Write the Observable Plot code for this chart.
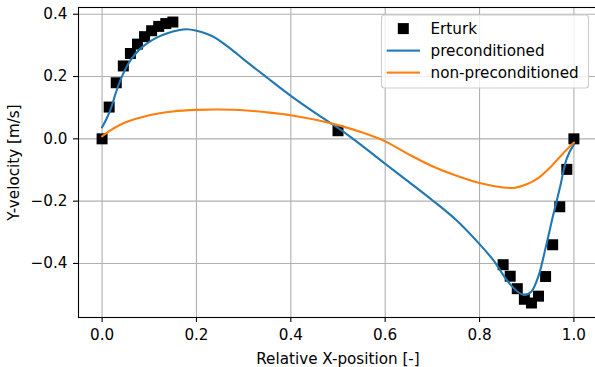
<!DOCTYPE html>
<html><head><meta charset="utf-8">
<script src="https://cdn.jsdelivr.net/npm/d3@7"></script>
<script src="https://cdn.jsdelivr.net/npm/@observablehq/plot@0.6"></script>
<style>
body{margin:0;background:#fff}
#chart{position:relative;width:595px;height:367px;overflow:hidden}
</style>
</head><body><div id="chart"></div>
<script>
// ---- data ----
const erturkX = [0, 0.015, 0.03, 0.045, 0.06, 0.075, 0.09, 0.105, 0.12, 0.135, 0.15, 0.5,
                 0.85, 0.865, 0.88, 0.895, 0.91, 0.925, 0.94, 0.955, 0.97, 0.985, 1.0];
const erturkY = [0, 0.102, 0.180, 0.234, 0.274, 0.304, 0.328, 0.347, 0.361, 0.370, 0.375, 0.026,
                 -0.404, -0.441, -0.481, -0.515, -0.527, -0.505, -0.442, -0.340, -0.218, -0.098, 0];

const preX = [0, 0.01, 0.02, 0.03, 0.045, 0.06, 0.08, 0.10, 0.12, 0.14, 0.16, 0.18, 0.20, 0.22, 0.24,
              0.26, 0.28, 0.30, 0.35, 0.40, 0.45, 0.50, 0.55, 0.60, 0.65, 0.70, 0.75, 0.80, 0.83,
              0.86, 0.88, 0.895, 0.91, 0.925, 0.94, 0.955, 0.97, 0.985, 1.0];
const preY = [0.037, 0.066, 0.103, 0.152, 0.210, 0.252, 0.288, 0.311, 0.328, 0.340, 0.348, 0.352, 0.347,
              0.338, 0.324, 0.303, 0.280, 0.255, 0.196, 0.138, 0.085, 0.035, -0.021, -0.080, -0.138,
              -0.197, -0.260, -0.338, -0.391, -0.458, -0.490, -0.501, -0.490, -0.440, -0.350, -0.252,
              -0.159, -0.063, -0.018];

const nonX = [0, 0.01, 0.025, 0.05, 0.10, 0.15, 0.20, 0.25, 0.30, 0.35, 0.40, 0.45, 0.50, 0.55,
              0.60, 0.65, 0.70, 0.75, 0.80, 0.85, 0.875, 0.90, 0.925, 0.95, 0.975, 1.0];
const nonY = [0.008, 0.019, 0.034, 0.053, 0.076, 0.088, 0.093, 0.094, 0.092, 0.085, 0.076, 0.062,
              0.044, 0.021, -0.008, -0.050, -0.088, -0.118, -0.142, -0.156, -0.157, -0.146, -0.125,
              -0.091, -0.050, -0.012];

const xTicks = [0, 0.2, 0.4, 0.6, 0.8, 1.0];
const yTicks = [-0.4, -0.2, 0, 0.2, 0.4];
const seriesNames = ["Erturk", "preconditioned", "non-preconditioned"];
const seriesColors = ["#000000", "#1f77b4", "#ff7f0e"];
const xLabel = "Relative X-position [-]";
const yLabel = "Y-velocity [m/s]";

// ---- build ----
const erturk = erturkX.map((x, i) => ({x, y: erturkY[i]}));
const pre = preX.map((x, i) => ({x, y: preY[i]}));
const non = nonX.map((x, i) => ({x, y: nonY[i]}));
const fmt = d3.format(".1f");
const font = "DejaVu Sans";
const fs = 15.2;
const gridStyle = {stroke: "#b0b0b0", strokeOpacity: 1, strokeWidth: 1.1};

const plot = Plot.plot({
  width: 595, height: 367,
  marginLeft: 78, marginRight: -2, marginTop: 7, marginBottom: 50,
  style: {fontFamily: font, fontSize: fs + "px", color: "#000", background: "#fff"},
  x: {domain: [-0.05, 1.05]},
  y: {domain: [-0.5735, 0.4216]},
  marks: [
    Plot.gridX(xTicks, gridStyle),
    Plot.gridY(yTicks, gridStyle),
    Plot.dot(erturk, {x: "x", y: "y", symbol: "square", r: 6.2, fill: seriesColors[0], stroke: "none"}),
    Plot.line(pre, {x: "x", y: "y", stroke: seriesColors[1], strokeWidth: 2.1, curve: "catmull-rom"}),
    Plot.line(non, {x: "x", y: "y", stroke: seriesColors[2], strokeWidth: 2.1, curve: "catmull-rom"}),
    Plot.frame({stroke: "#000", strokeWidth: 1.1}),
    Plot.axisX(xTicks, {tickFormat: fmt, tickSize: 5, tickPadding: 7, strokeWidth: 1.1,
      label: xLabel, labelAnchor: "center", labelArrow: "none", labelOffset: 46, fontSize: fs}),
    Plot.axisY(yTicks, {tickFormat: fmt, tickSize: 5, tickPadding: 6, strokeWidth: 1.1,
      label: yLabel, labelAnchor: "center", labelArrow: "none", labelOffset: 70, fontSize: fs})
  ]
});
document.getElementById("chart").appendChild(plot);

// ---- legend (inside upper right of the axes) ----
const svg = d3.select(plot);
const lg = svg.append("g").attr("font-family", font).attr("font-size", fs)
  .attr("text-anchor", "start");
lg.append("rect").attr("x", 381.5).attr("y", 15).attr("width", 207).attr("height", 73)
  .attr("rx", 3).attr("fill", "#fff").attr("fill-opacity", 0.8)
  .attr("stroke", "#cccccc").attr("stroke-width", 1.1);
seriesNames.forEach((name, i) => {
  const cy = 28.6 + i * 22;
  if (i === 0) {
    lg.append("rect").attr("x", 403.3 - 5.5).attr("y", cy - 5.5).attr("width", 11).attr("height", 11)
      .attr("fill", seriesColors[i]);
  } else {
    lg.append("rect").attr("x", 386.7).attr("y", cy - 1.05).attr("width", 33.3).attr("height", 2.1)
      .attr("fill", seriesColors[i]);
  }
  lg.append("text").attr("x", 430.5).attr("y", cy).attr("dy", "0.36em")
    .attr("text-anchor", "start").attr("fill", "#000").text(name);
});
</script>
</body></html>
